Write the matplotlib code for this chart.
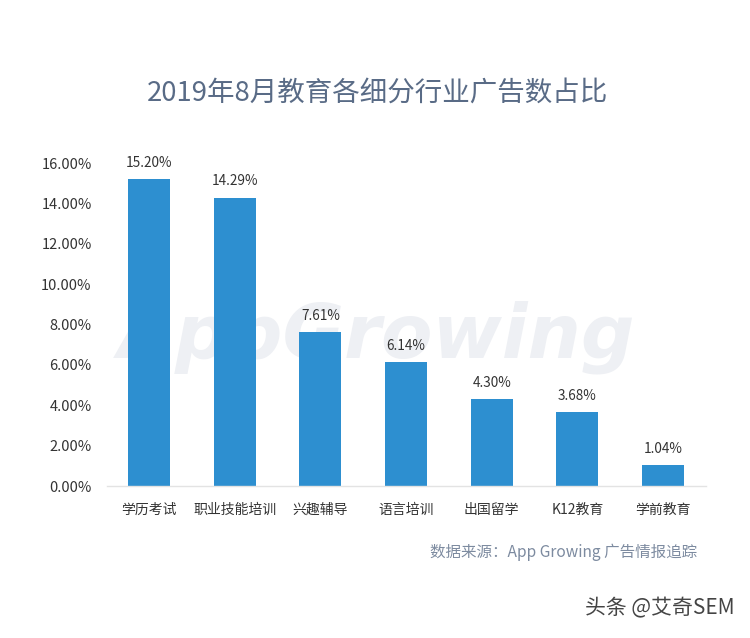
import matplotlib
matplotlib.use("Agg")
import matplotlib.pyplot as plt

plt.rcParams['font.family'] = ['Noto Sans CJK SC', 'DejaVu Sans']

# 数据
categories = ['学历考试', '职业技能培训', '兴趣辅导', '语言培训', '出国留学', 'K12教育', '学前教育']
values = [15.20, 14.29, 7.61, 6.14, 4.30, 3.68, 1.04]
yticks = [0, 2, 4, 6, 8, 10, 12, 14, 16]

bar_color = '#2d8fd0'
text_color = '#333333'

fig = plt.figure(figsize=(7.5, 6.38), dpi=100)
fig.patch.set_facecolor('white')

# 背景水印
fig.text(0.502, 0.472, 'AppGrowing', fontsize=54, color='#eef0f4',
         family='DejaVu Sans', style='italic', fontweight='bold',
         ha='center', va='center', zorder=-5)

ax = fig.add_axes([0.1427, 0.2382, 0.7986, 0.5063])
ax.patch.set_alpha(0)

x = list(range(len(categories)))
ax.bar(x, values, width=0.49, color=bar_color, zorder=2)

for xi, v in zip(x, values):
    ax.text(xi, v + 0.45, '%.2f%%' % v, ha='center', va='bottom',
            fontsize=9.8, color=text_color, clip_on=False)

ax.set_xlim(-0.49, 6.5)
ax.set_ylim(0, 16)
ax.set_yticks(yticks)
ax.set_yticklabels(['%.2f%%' % t for t in yticks], fontsize=10.5, color=text_color)
ax.set_xticks(x)
ax.set_xticklabels(categories, fontsize=10, color=text_color)
ax.tick_params(axis='both', length=0)
ax.tick_params(axis='y', pad=11)
ax.tick_params(axis='x', pad=12)

for s in ['top', 'right', 'left']:
    ax.spines[s].set_visible(False)
ax.spines['bottom'].set_color('#e3e3e3')
ax.spines['bottom'].set_linewidth(1)

# 标题
fig.text(0.503, 0.854, '2019年8月教育各细分行业广告数占比', fontsize=19.8,
         color='#596b86', ha='center', va='center')

# 数据来源
fig.text(0.929, 0.135, '数据来源：App Growing 广告情报追踪', fontsize=11.2,
         color='#7d8ba0', ha='right', va='center')

# 水印署名
fig.text(0.98, 0.047, '头条 @艾奇SEM', fontsize=15, color='#444444',
         ha='right', va='center')

plt.savefig('out.png', dpi=100, facecolor='white')
